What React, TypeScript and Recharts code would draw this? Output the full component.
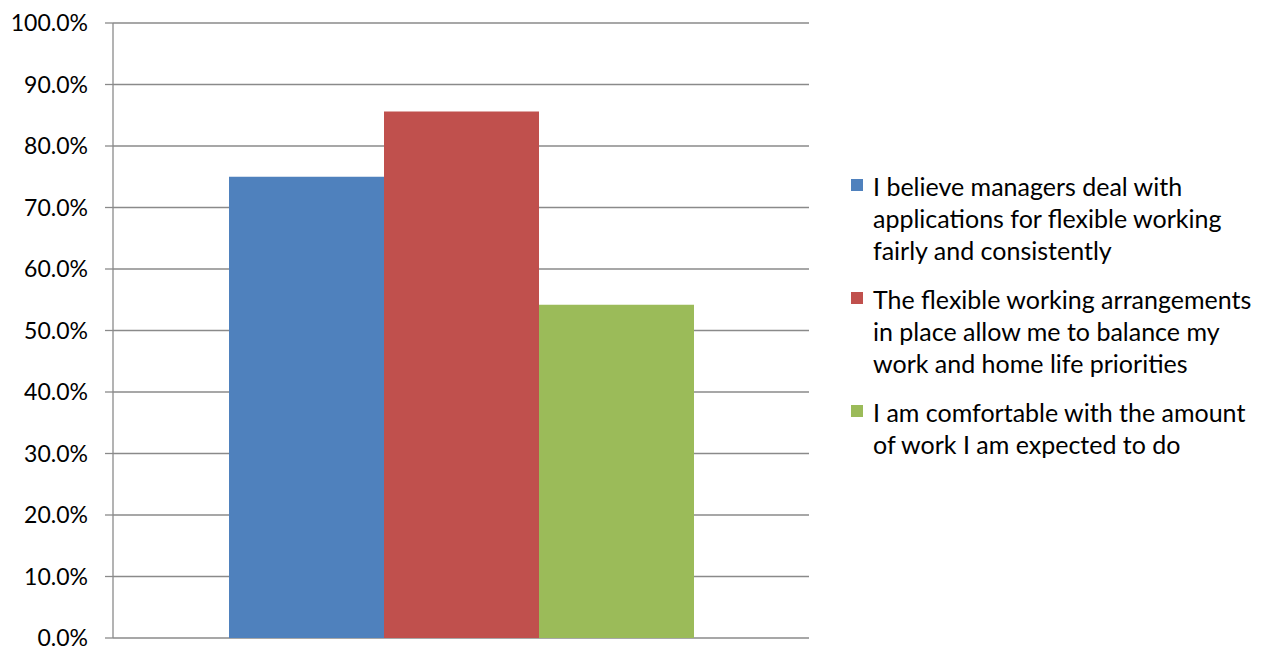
import { BarChart, Bar, XAxis, YAxis, CartesianGrid } from 'recharts';

const seriesNames = [
  'I believe managers deal with applications for flexible working fairly and consistently',
  'The flexible working arrangements in place allow me to balance my work and home life priorities',
  'I am comfortable with the amount of work I am expected to do',
];
const seriesValues = [0.75, 0.856, 0.542];
const seriesColors = ['#4F81BD', '#C0504D', '#9BBB59'];
const yTicks = [0, 0.1, 0.2, 0.3, 0.4, 0.5, 0.6, 0.7, 0.8, 0.9, 1];

const keys = ['s0', 's1', 's2'];
const data = [
  keys.reduce((row: any, k, i) => {
    row[k] = seriesValues[i];
    return row;
  }, { name: '' }),
];

const FONT = 'Lato, "Open Sans", sans-serif';

const LegendBox = () => (
  <div
    style={{
      position: 'absolute',
      left: 851,
      top: 170,
      fontFamily: FONT,
      fontSize: 25,
      lineHeight: '32px',
      color: '#000',
    }}
  >
    {seriesNames.map((name, i) => (
      <div key={i} style={{ display: 'flex', alignItems: 'flex-start', marginBottom: 17 }}>
        <div style={{ width: 12, height: 12, background: seriesColors[i], marginTop: 9, marginRight: 10, flexShrink: 0 }} />
        <div style={{ width: 385 }}>{name}</div>
      </div>
    ))}
  </div>
);

export default function App() {
  return (
    <div style={{ position: 'absolute', left: 0, top: 0, width: 1261, height: 648, background: '#fff' }}>
      <BarChart
        width={1261}
        height={648}
        data={data}
        margin={{ top: 23, right: 452, bottom: 10, left: 0 }}
        barGap={0}
      >
        <CartesianGrid vertical={false} stroke="#8a8a8a" strokeWidth={1.3} />
        <XAxis dataKey="name" hide />
        <YAxis
          width={113}
          domain={[0, 1]}
          ticks={yTicks}
          interval={0}
          tickSize={8}
          tickMargin={17}
          axisLine={{ stroke: '#8a8a8a', strokeWidth: 1.3 }}
          tickLine={{ stroke: '#8a8a8a', strokeWidth: 1.3 }}
          tick={{ fill: '#000', fontSize: 23, fontFamily: FONT }}
          tickFormatter={(v: number) => `${(v * 100).toFixed(1)}%`}
        />
        {keys.map((k, i) => (
          <Bar key={k} dataKey={k} name={seriesNames[i]} fill={seriesColors[i]} barSize={155} isAnimationActive={false} />
        ))}
      </BarChart>
      <LegendBox />
    </div>
  );
}
